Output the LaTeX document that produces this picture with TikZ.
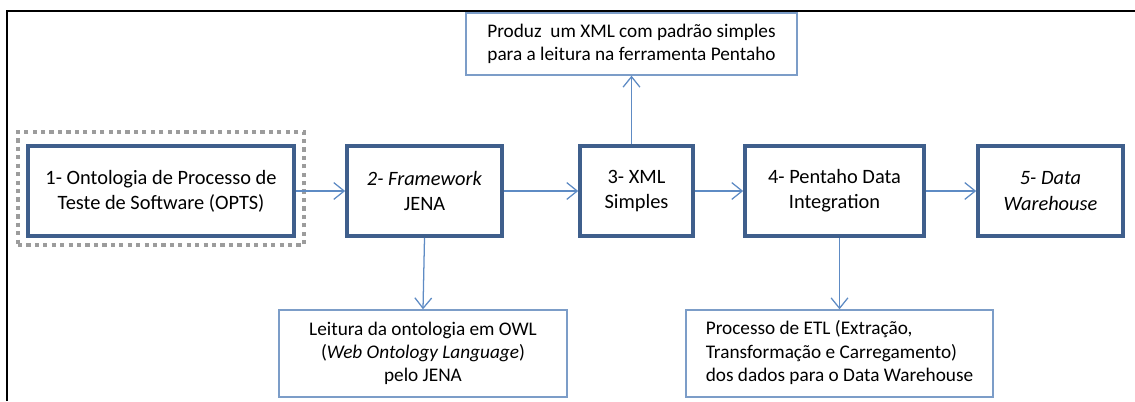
\documentclass[tikz,border=0pt]{standalone}
\usepackage{fontspec}
\setmainfont{Carlito}
\usepackage{tikz}
\usetikzlibrary{arrows.meta}

\definecolor{boxblue}{HTML}{3F5F8C}
\definecolor{noteblue}{HTML}{7C9DC8}
\definecolor{arrowblue}{HTML}{5E8BC4}
\definecolor{dotgray}{HTML}{9C9C9C}

\tikzset{
  stepbox/.style={draw=boxblue,line width=2.6pt,fill=white,align=center,
    minimum height=2.25cm,font=\fontsize{14.5}{18}\selectfont},
  notebox/.style={draw=noteblue,line width=1pt,fill=white,align=center,
    font=\fontsize{13.7}{16.5}\selectfont},
  dotbox/.style={draw=dotgray,line width=2.6pt,dash pattern=on 3pt off 3pt},
  flow/.style={draw=arrowblue,line width=0.9pt,-{Straight Barb[length=2.6mm,width=4.2mm]}}
}

\begin{document}
\begin{tikzpicture}[x=0.025cm,y=-0.025cm]
\useasboundingbox (0,0) rectangle (1135,401);
% Frame
\draw[line width=1.2pt] (7,401) -- (7,11) -- (1135,11);
            % Steps
\node[dotbox,minimum width=7.15cm,minimum height=2.83cm] (f1) at (161,188.5) {};
\node[stepbox,minimum width=6.65cm] (b1) at (161,191) {1- Ontologia de Processo de\\Teste de Software (OPTS)};
\node[stepbox,minimum width=3.875cm] (b2) at (424.5,191) {\textit{2- Framework}\\JENA};
\node[stepbox,minimum width=2.825cm] (b3) at (636.5,191) {3- XML\\Simples};
\node[stepbox,minimum width=4.475cm] (b4) at (834.5,191) {4- Pentaho Data\\Integration};
\node[stepbox,minimum width=3.625cm] (b5) at (1050.5,191) {\textit{5- Data}\\\textit{Warehouse}};
%Notes
\node[notebox,minimum width=8.275cm,minimum height=1.55cm] (n3) at (631.5,44) {Produz~ um XML com padrão simples\\para a leitura na ferramenta Pentaho};
\node[notebox,minimum width=7.2cm,minimum height=2.175cm] (n2) at (423,353.5) {Leitura da ontologia em OWL\\(\textit{Web Ontology Language})\\pelo JENA};
\node[notebox,minimum width=7.675cm,minimum height=2.175cm] (n4) at (839.5,353.5) {\begin{tabular}{@{}l@{}}Processo de ETL (Extração,\\Transformação e Carregamento)\\dos dados para o Data Warehouse\end{tabular}};
%Flow
\draw[flow] (b1) -- (b2);
\draw[flow] (b2) -- (b3);
\draw[flow] (b3) -- (b4);
\draw[flow] (b4) -- (b5);
\draw[flow] (b2.south) -- (n2.north);
\draw[flow] (b3.north -| n3.south) -- (n3.south);
\draw[flow] (b4.south -| n4.north) -- (n4.north);
\end{tikzpicture}
\end{document}
